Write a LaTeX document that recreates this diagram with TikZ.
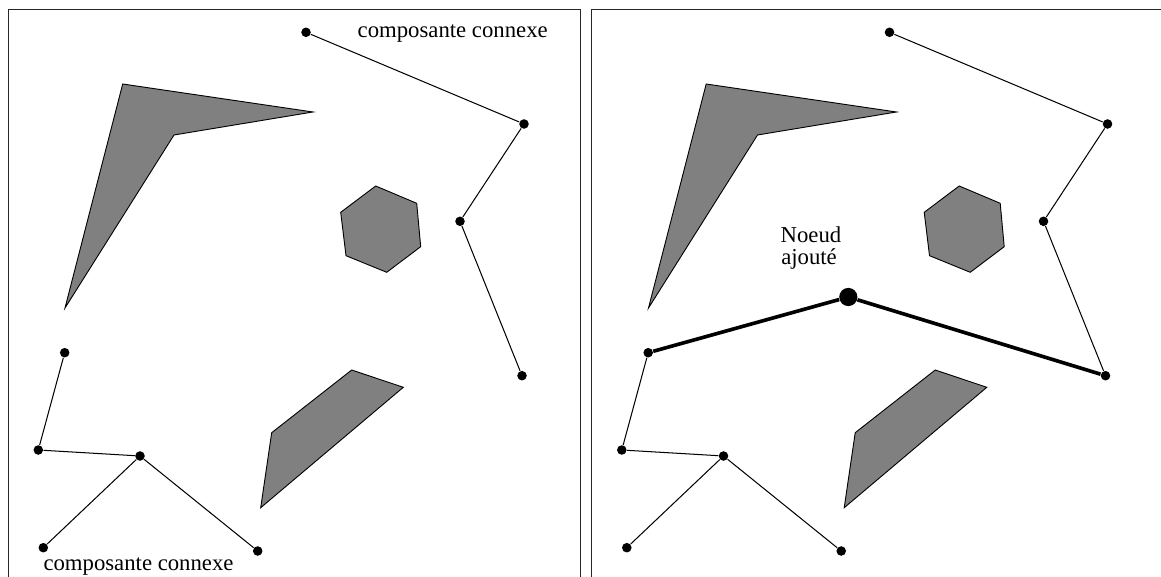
\documentclass[tikz,border=0pt]{standalone}
\usepackage{fontspec}
\setmainfont{Liberation Serif}
\begin{document}
\begin{tikzpicture}[x=0.44pt,y=-0.44pt,
  sommet/.style={circle,fill=black,inner sep=0pt,minimum size=4.2pt},
  ajout/.style={circle,fill=black,inner sep=0pt,minimum size=8pt},
  obstacle/.style={fill=gray,draw=black,line width=0.4pt},
  arete/.style={line width=0.45pt},
  nouvelle/.style={line width=1.6pt},
  cadre/.style={line width=0.6pt,black!85},
  etiquette/.style={font=\fontsize{10}{12}\selectfont}]
\useasboundingbox (0,0) rectangle (1161,577);

% The two panels: same obstacles and same graph
\foreach \pan/\dx in {g/0,d/583.5}{
\begin{scope}[shift={(\dx,0)}]
% Draw the frame
\draw[cadre] (8.3,580) -- (8.3,9.7) -- (580.7,9.7) -- (580.7,580);

% Draw the obstacles
\draw[obstacle] (122.7,84) -- (313,112) -- (174,135) -- (65,308) -- cycle;
\draw[obstacle] (375.7,186) -- (416.7,203.3) -- (420.7,246.7) -- (386.7,272.3)
  -- (346,255.7) -- (340.7,212.3) -- cycle;
\draw[obstacle] (351.7,370) -- (403.3,387.3) -- (260.7,507.7) -- (271.7,432.7) -- cycle;

% Draw the nodes
\node[sommet] (\pan1) at (306,32.3) {};
\node[sommet] (\pan2) at (524,124) {};
\node[sommet] (\pan3) at (460,221.3) {};
\node[sommet] (\pan4) at (522,375.7) {};
\node[sommet] (\pan5) at (64.7,352.7) {};
\node[sommet] (\pan6) at (38.3,450) {};
\node[sommet] (\pan7) at (140,456) {};
\node[sommet] (\pan8) at (43.3,547.7) {};
\node[sommet] (\pan9) at (257.7,551) {};

% Draw the edges
\draw[arete] (\pan1) -- (\pan2) -- (\pan3) -- (\pan4);
\draw[arete] (\pan5) -- (\pan6) -- (\pan7) -- (\pan8);
\draw[arete] (\pan7) -- (\pan9);
\end{scope}
}

% Labels of the left panel
\node[etiquette,anchor=base] (compHaut) at (452.7,37.5) {composante connexe};
\node[etiquette,anchor=base west] (compBas) at (35.5,570.5) {composante connexe};

% The added node joins the two components
\node[ajout] (nouveau) at (848.3,297) {};
\node[etiquette,anchor=base] (noeud) at (811,243) {Noeud};
\node[etiquette,anchor=base] (ajoute) at (809,265) {ajouté};
\draw[nouvelle] (d5) -- (nouveau) -- (d4);
\end{tikzpicture}
\end{document}
